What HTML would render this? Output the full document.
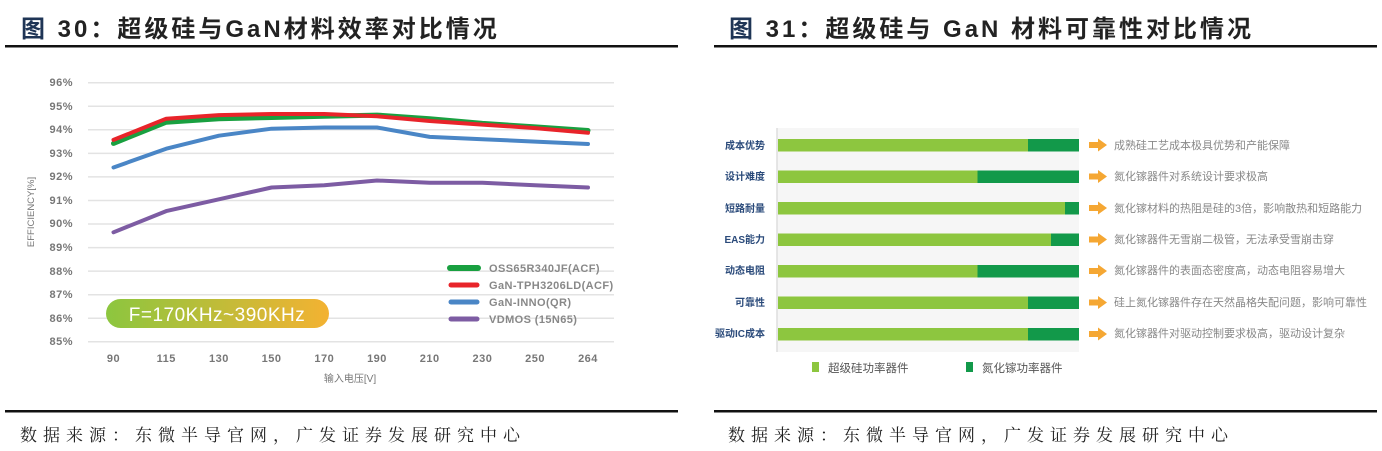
<!DOCTYPE html>
<html><head><meta charset="utf-8"><style>
html,body{margin:0;padding:0;background:#fff;}
svg{display:block;}
</style></head><body>
<svg width="1382" height="451" viewBox="0 0 1382 451" xmlns="http://www.w3.org/2000/svg">
<g font-family="'Liberation Sans','Noto Sans CJK SC',sans-serif" font-weight="bold" font-size="24" fill="#222" letter-spacing="3">
<text x="21" y="37"><tspan fill="#1f3556">图</tspan> 30：超级硅与GaN材料效率对比情况</text>
<text x="729" y="37"><tspan fill="#1f3556">图</tspan> 31：超级硅与 GaN 材料可靠性对比情况</text>
</g>
<rect x="5" y="45" width="673" height="2.5" fill="#111"/>
<rect x="714" y="45" width="663" height="2.5" fill="#111"/>
<rect x="5" y="410" width="673" height="2.5" fill="#111"/>
<rect x="714" y="410" width="663" height="2.5" fill="#111"/>
<g font-family="'Liberation Serif','Noto Serif CJK SC',serif" font-size="17" fill="#222" letter-spacing="6">
<text x="20" y="441">数据来源：东微半导官网，广发证券发展研究中心</text>
<text x="728" y="441">数据来源：东微半导官网，广发证券发展研究中心</text>
</g>

<!-- left chart -->
<g stroke="#e3e3e3" stroke-width="1.5">
<line x1="88" x2="614" y1="82.7" y2="82.7"/><line x1="88" x2="614" y1="106.3" y2="106.3"/>
<line x1="88" x2="614" y1="129.8" y2="129.8"/><line x1="88" x2="614" y1="153.4" y2="153.4"/>
<line x1="88" x2="614" y1="176.9" y2="176.9"/><line x1="88" x2="614" y1="200.5" y2="200.5"/>
<line x1="88" x2="614" y1="224" y2="224"/><line x1="88" x2="614" y1="247.6" y2="247.6"/>
<line x1="88" x2="614" y1="271.1" y2="271.1"/><line x1="88" x2="614" y1="294.7" y2="294.7"/>
<line x1="88" x2="614" y1="318.2" y2="318.2"/><line x1="88" x2="614" y1="341.8" y2="341.8"/>
</g>
<g font-family="'Liberation Sans',sans-serif" font-size="11" font-weight="bold" fill="#777" text-anchor="end" letter-spacing="0.5">
<text x="73" y="86">96%</text><text x="73" y="110">95%</text><text x="73" y="133">94%</text>
<text x="73" y="157">93%</text><text x="73" y="180">92%</text><text x="73" y="204">91%</text>
<text x="73" y="227">90%</text><text x="73" y="251">89%</text><text x="73" y="275">88%</text>
<text x="73" y="298">87%</text><text x="73" y="322">86%</text><text x="73" y="345">85%</text>
</g>
<g font-family="'Liberation Sans',sans-serif" font-size="11" font-weight="bold" fill="#777" text-anchor="middle" letter-spacing="0.5">
<text x="113.5" y="362">90</text><text x="166.2" y="362">115</text><text x="218.9" y="362">130</text>
<text x="271.6" y="362">150</text><text x="324.3" y="362">170</text><text x="377" y="362">190</text>
<text x="429.7" y="362">210</text><text x="482.4" y="362">230</text><text x="535.1" y="362">250</text>
<text x="588" y="362">264</text>
</g>
<text x="350" y="382" font-family="'Liberation Sans','Noto Sans CJK SC',sans-serif" font-size="10" fill="#777" text-anchor="middle">输入电压[V]</text>
<text transform="translate(34,212) rotate(-90)" font-family="'Liberation Sans',sans-serif" font-size="9.5" fill="#777" text-anchor="middle">EFFICIENCY[%]</text>
<g fill="none" stroke-linejoin="round" stroke-linecap="round">
<polyline stroke="#19a040" stroke-width="5" points="113.5,143.4 166.2,122.2 218.9,118.7 271.6,117.5 324.3,116.3 377,115.1 429.7,118.7 482.4,123.4 535.1,126.9 588,130.5"/>
<polyline stroke="#e8242a" stroke-width="4" points="113.5,139.9 166.2,118.7 218.9,115.1 271.6,114 324.3,114 377,116.3 429.7,121 482.4,124.6 535.1,128.1 588,132.8"/>
<polyline stroke="#4a86c6" stroke-width="4" points="113.5,167.5 166.2,148.7 218.9,135.7 271.6,128.7 324.3,127.5 377,127.5 429.7,136.9 482.4,139.2 535.1,141.6 588,144"/>
<polyline stroke="#7d5ca3" stroke-width="4" points="113.5,232.3 166.2,211.1 218.9,199.3 271.6,187.5 324.3,185.2 377,180.5 429.7,182.8 482.4,182.8 535.1,185.2 588,187.5"/>
</g>
<g stroke-width="5" stroke-linecap="round">
<line x1="450" x2="478" y1="268" y2="268" stroke="#19a040" stroke-width="6"/>
<line x1="451" x2="477" y1="285" y2="285" stroke="#e8242a"/>
<line x1="451" x2="477" y1="302" y2="302" stroke="#4a86c6"/>
<line x1="451" x2="477" y1="319" y2="319" stroke="#7d5ca3"/>
</g>
<g font-family="'Liberation Sans',sans-serif" font-size="11" font-weight="bold" fill="#888" letter-spacing="0.4">
<text x="489" y="272">OSS65R340JF(ACF)</text><text x="489" y="289">GaN-TPH3206LD(ACF)</text>
<text x="489" y="306">GaN-INNO(QR)</text><text x="489" y="323">VDMOS (15N65)</text>
</g>
<defs><linearGradient id="bg" x1="0" x2="1"><stop offset="0" stop-color="#8cc63f"/><stop offset="1" stop-color="#f3b232"/></linearGradient></defs>
<rect x="106" y="299" width="223" height="29" rx="14.5" fill="url(#bg)"/>
<text x="217" y="321" font-family="'Liberation Sans',sans-serif" font-size="19" fill="#fff" text-anchor="middle" letter-spacing="0.5">F=170KHz~390KHz</text>

<!-- right chart -->
<rect x="777" y="128" width="302" height="224" fill="#f6f6f6"/>
<line x1="777" x2="777" y1="128" y2="352" stroke="#ddd" stroke-width="1.5"/>
<g>
<rect x="778" y="139" width="250" height="12.5" fill="#8dc63f"/><rect x="1028" y="139" width="51" height="12.5" fill="#12994a"/>
<rect x="778" y="170.5" width="199.5" height="12.5" fill="#8dc63f"/><rect x="977.5" y="170.5" width="101.5" height="12.5" fill="#12994a"/>
<rect x="778" y="202" width="287" height="12.5" fill="#8dc63f"/><rect x="1065" y="202" width="14" height="12.5" fill="#12994a"/>
<rect x="778" y="233.5" width="273" height="12.5" fill="#8dc63f"/><rect x="1051" y="233.5" width="28" height="12.5" fill="#12994a"/>
<rect x="778" y="265" width="199.5" height="12.5" fill="#8dc63f"/><rect x="977.5" y="265" width="101.5" height="12.5" fill="#12994a"/>
<rect x="778" y="296.5" width="250" height="12.5" fill="#8dc63f"/><rect x="1028" y="296.5" width="51" height="12.5" fill="#12994a"/>
<rect x="778" y="328" width="250" height="12.5" fill="#8dc63f"/><rect x="1028" y="328" width="51" height="12.5" fill="#12994a"/>
</g>
<g font-family="'Liberation Sans','Noto Sans CJK SC',sans-serif" font-size="10" font-weight="bold" fill="#2a4a7a" text-anchor="end">
<text x="765" y="149">成本优势</text><text x="765" y="180">设计难度</text><text x="765" y="212">短路耐量</text>
<text x="765" y="243">EAS能力</text><text x="765" y="274">动态电阻</text><text x="765" y="306">可靠性</text>
<text x="765" y="337">驱动IC成本</text>
</g>
<g fill="#f5a733">
<path d="M1089,142 h9 v-3.5 l9,6.5 l-9,6.5 v-3.5 h-9z"/>
<path d="M1089,173.5 h9 v-3.5 l9,6.5 l-9,6.5 v-3.5 h-9z"/>
<path d="M1089,205 h9 v-3.5 l9,6.5 l-9,6.5 v-3.5 h-9z"/>
<path d="M1089,236.5 h9 v-3.5 l9,6.5 l-9,6.5 v-3.5 h-9z"/>
<path d="M1089,268 h9 v-3.5 l9,6.5 l-9,6.5 v-3.5 h-9z"/>
<path d="M1089,299.5 h9 v-3.5 l9,6.5 l-9,6.5 v-3.5 h-9z"/>
<path d="M1089,331 h9 v-3.5 l9,6.5 l-9,6.5 v-3.5 h-9z"/>
</g>
<g font-family="'Liberation Sans','Noto Sans CJK SC',sans-serif" font-size="11" fill="#888">
<text x="1114" y="149">成熟硅工艺成本极具优势和产能保障</text>
<text x="1114" y="180">氮化镓器件对系统设计要求极高</text>
<text x="1114" y="212">氮化镓材料的热阻是硅的3倍，影响散热和短路能力</text>
<text x="1114" y="243">氮化镓器件无雪崩二极管，无法承受雪崩击穿</text>
<text x="1114" y="274">氮化镓器件的表面态密度高，动态电阻容易增大</text>
<text x="1114" y="306">硅上氮化镓器件存在天然晶格失配问题，影响可靠性</text>
<text x="1114" y="337">氮化镓器件对驱动控制要求极高，驱动设计复杂</text>
</g>
<rect x="812" y="362" width="7" height="10" fill="#8dc63f"/>
<rect x="966" y="362" width="7" height="10" fill="#12994a"/>
<g font-family="'Liberation Sans','Noto Sans CJK SC',sans-serif" font-size="11.5" fill="#555">
<text x="828" y="372">超级硅功率器件</text><text x="982" y="372">氮化镓功率器件</text>
</g>
</svg>
</body></html>
